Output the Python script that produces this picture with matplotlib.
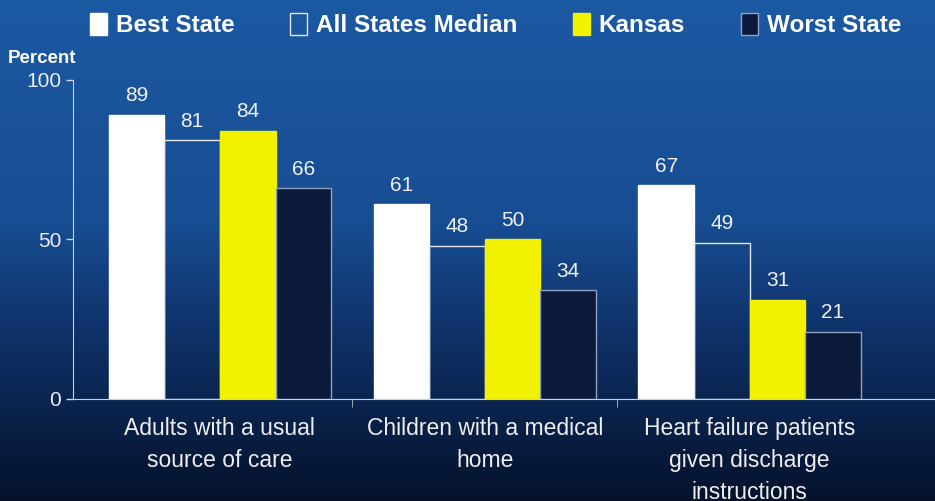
import numpy as np
import matplotlib
matplotlib.use('Agg')
import matplotlib.pyplot as plt
from matplotlib.patches import Patch
from matplotlib.colors import LinearSegmentedColormap

plt.rcParams['font.family'] = ['Liberation Sans', 'DejaVu Sans']

categorias = ['Adults with a usual\nsource of care',
              'Children with a medical\nhome',
              'Heart failure patients\ngiven discharge\ninstructions']
series = ['Best State', 'All States Median', 'Kansas', 'Worst State']
best_state = [89, 61, 67]
median_states = [81, 48, 49]
kansas = [84, 50, 31]
worst_state = [66, 34, 21]

fig = plt.figure(figsize=(9.35, 5.01), dpi=100)

# fondo degradado azul
bg = fig.add_axes([0, 0, 1, 1], zorder=-10)
cmap = LinearSegmentedColormap.from_list('fondo', [
    (0.0, (0.11, 0.35, 0.64)),
    (0.45, (0.09, 0.30, 0.57)),
    (0.65, (0.06, 0.20, 0.42)),
    (1.0, (0.02, 0.07, 0.17))])
grad = np.linspace(0, 1, 256).reshape(-1, 1)
bg.imshow(grad, aspect='auto', cmap=cmap, extent=[0, 1, 0, 1], origin='upper')
bg.axis('off')

ax = fig.add_axes([0.078, 0.2036, 0.922, 0.637])
ax.set_facecolor('none')

x = np.arange(len(categorias))
w = 0.21
offsets = np.array([-1.5, -0.5, 0.5, 1.5]) * w
valores = [best_state, median_states, kansas, worst_state]
caras = ['white', 'none', '#f2f200', '#0b1a3a']
bordes = ['white', '#e6e6f0', '#f2f200', '#8fa3c0']

for vals, off, fc, ec in zip(valores, offsets, caras, bordes):
    bars = ax.bar(x + off, vals, width=w, color=fc, edgecolor=ec, linewidth=1.0)
    for b, v in zip(bars, vals):
        ax.text(b.get_x() + b.get_width() / 2, v + 3, str(v), ha='center',
                va='bottom', color='#f0f0f0', fontsize=15)

ax.set_xlim(-0.555, 2.70)
ax.set_ylim(0, 100)
ax.set_yticks([0, 50, 100])
ax.tick_params(axis='y', colors='#d0d8e8', labelcolor='#eeeeee', labelsize=15,
               length=5, width=1, direction='out')
ax.set_xticks(x)
ax.set_xticklabels(categorias, color='#eeeeee', fontsize=16.5, linespacing=1.5)
ax.tick_params(axis='x', length=0, pad=13)
ax.set_xticks([0.5, 1.5], minor=True)
ax.tick_params(axis='x', which='minor', length=6, colors='#b0bcd0', direction='out')

for s in ['top', 'right']:
    ax.spines[s].set_visible(False)
ax.spines['left'].set_color('#c8d0e0')
ax.spines['bottom'].set_color('#c8d0e0')

fig.text(0.008, 0.875, 'Percent', color='white', fontsize=13.5, fontweight='bold')

handles = [Patch(facecolor=fc, edgecolor=ec, linewidth=1) for fc, ec in zip(caras, bordes)]
leg = fig.legend(handles, series, loc='upper center', bbox_to_anchor=(0.530, 1.018),
                 ncol=4, frameon=False, handlelength=0.7, handleheight=1.0,
                 handletextpad=0.35, columnspacing=2.3,
                 prop={'size': 17.5, 'weight': 'bold'})
for t in leg.get_texts():
    t.set_color('white')

fig.savefig('out.png', dpi=100)
